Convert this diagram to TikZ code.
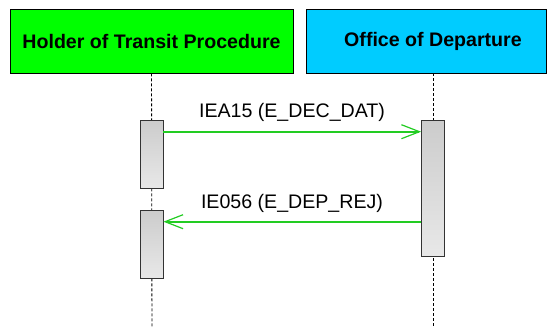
\documentclass[tikz,border=0pt]{standalone}
\usepackage{fontspec}
\setmainfont{Liberation Sans}
\usetikzlibrary{arrows.meta}
\definecolor{hgreen}{HTML}{00FF00}
\definecolor{hcyan}{HTML}{00CCFF}
\definecolor{msggreen}{HTML}{22CC22}
\tikzset{
  hdr/.style={draw=black, line width=0.9pt, minimum height=64pt, inner sep=0pt,
    font=\fontsize{19.6}{22}\selectfont\bfseries},
  lifeline/.style={draw=black, line width=0.9pt, dash pattern=on 3pt off 2pt},
  actbox/.style={draw=black!80, line width=0.8pt, top color=black!20, bottom color=black!9,
    minimum width=23pt, inner sep=0pt, anchor=north},
  msg/.style={color=msggreen, -{Straight Barb[length=18pt,width=14pt,line width=1.2pt]}},
  msglabel/.style={font=\fontsize{19.6}{22}\selectfont, anchor=base}
}
\begin{document}
\begin{tikzpicture}[x=1pt,y=-1pt]
\useasboundingbox (0,0) rectangle (548,327);
\node[hdr, fill=hgreen, minimum width=283pt] (htp) at (151.5,41) {Holder of Transit Procedure};
\node[hdr, fill=hcyan, minimum width=240pt,
  label={[xshift=7pt,font=\fontsize{19.6}{22}\selectfont\bfseries]center:Office of Departure}] (od) at (426,41) {};
\coordinate (htpend) at (152,327);
\coordinate (odend) at (433,327);
\draw[lifeline] (htp.south) -- (htpend);
\draw[lifeline] (od.south -| odend) -- (odend);
\node[actbox, minimum height=68pt] (a1) at (151.5,120) {};
\node[actbox, minimum height=68pt] (a2) at (151.5,210) {};
\node[actbox, minimum height=136pt] (b1) at (433,120) {};
\coordinate (y1) at (0,131.7);
\coordinate (y2) at (0,221.7);
\draw[msg, line width=1.8pt] (a1.east |- y1) -- (b1.west |- y1);
\draw[msg, line width=2pt] (b1.west |- y2) -- (a2.east |- y2);
\node[msglabel] (l1) at (292,117) {IEA15 (E\_DEC\_DAT)};
\node[msglabel] (l2) at (292,208) {IE056 (E\_DEP\_REJ)};
\end{tikzpicture}
\end{document}
